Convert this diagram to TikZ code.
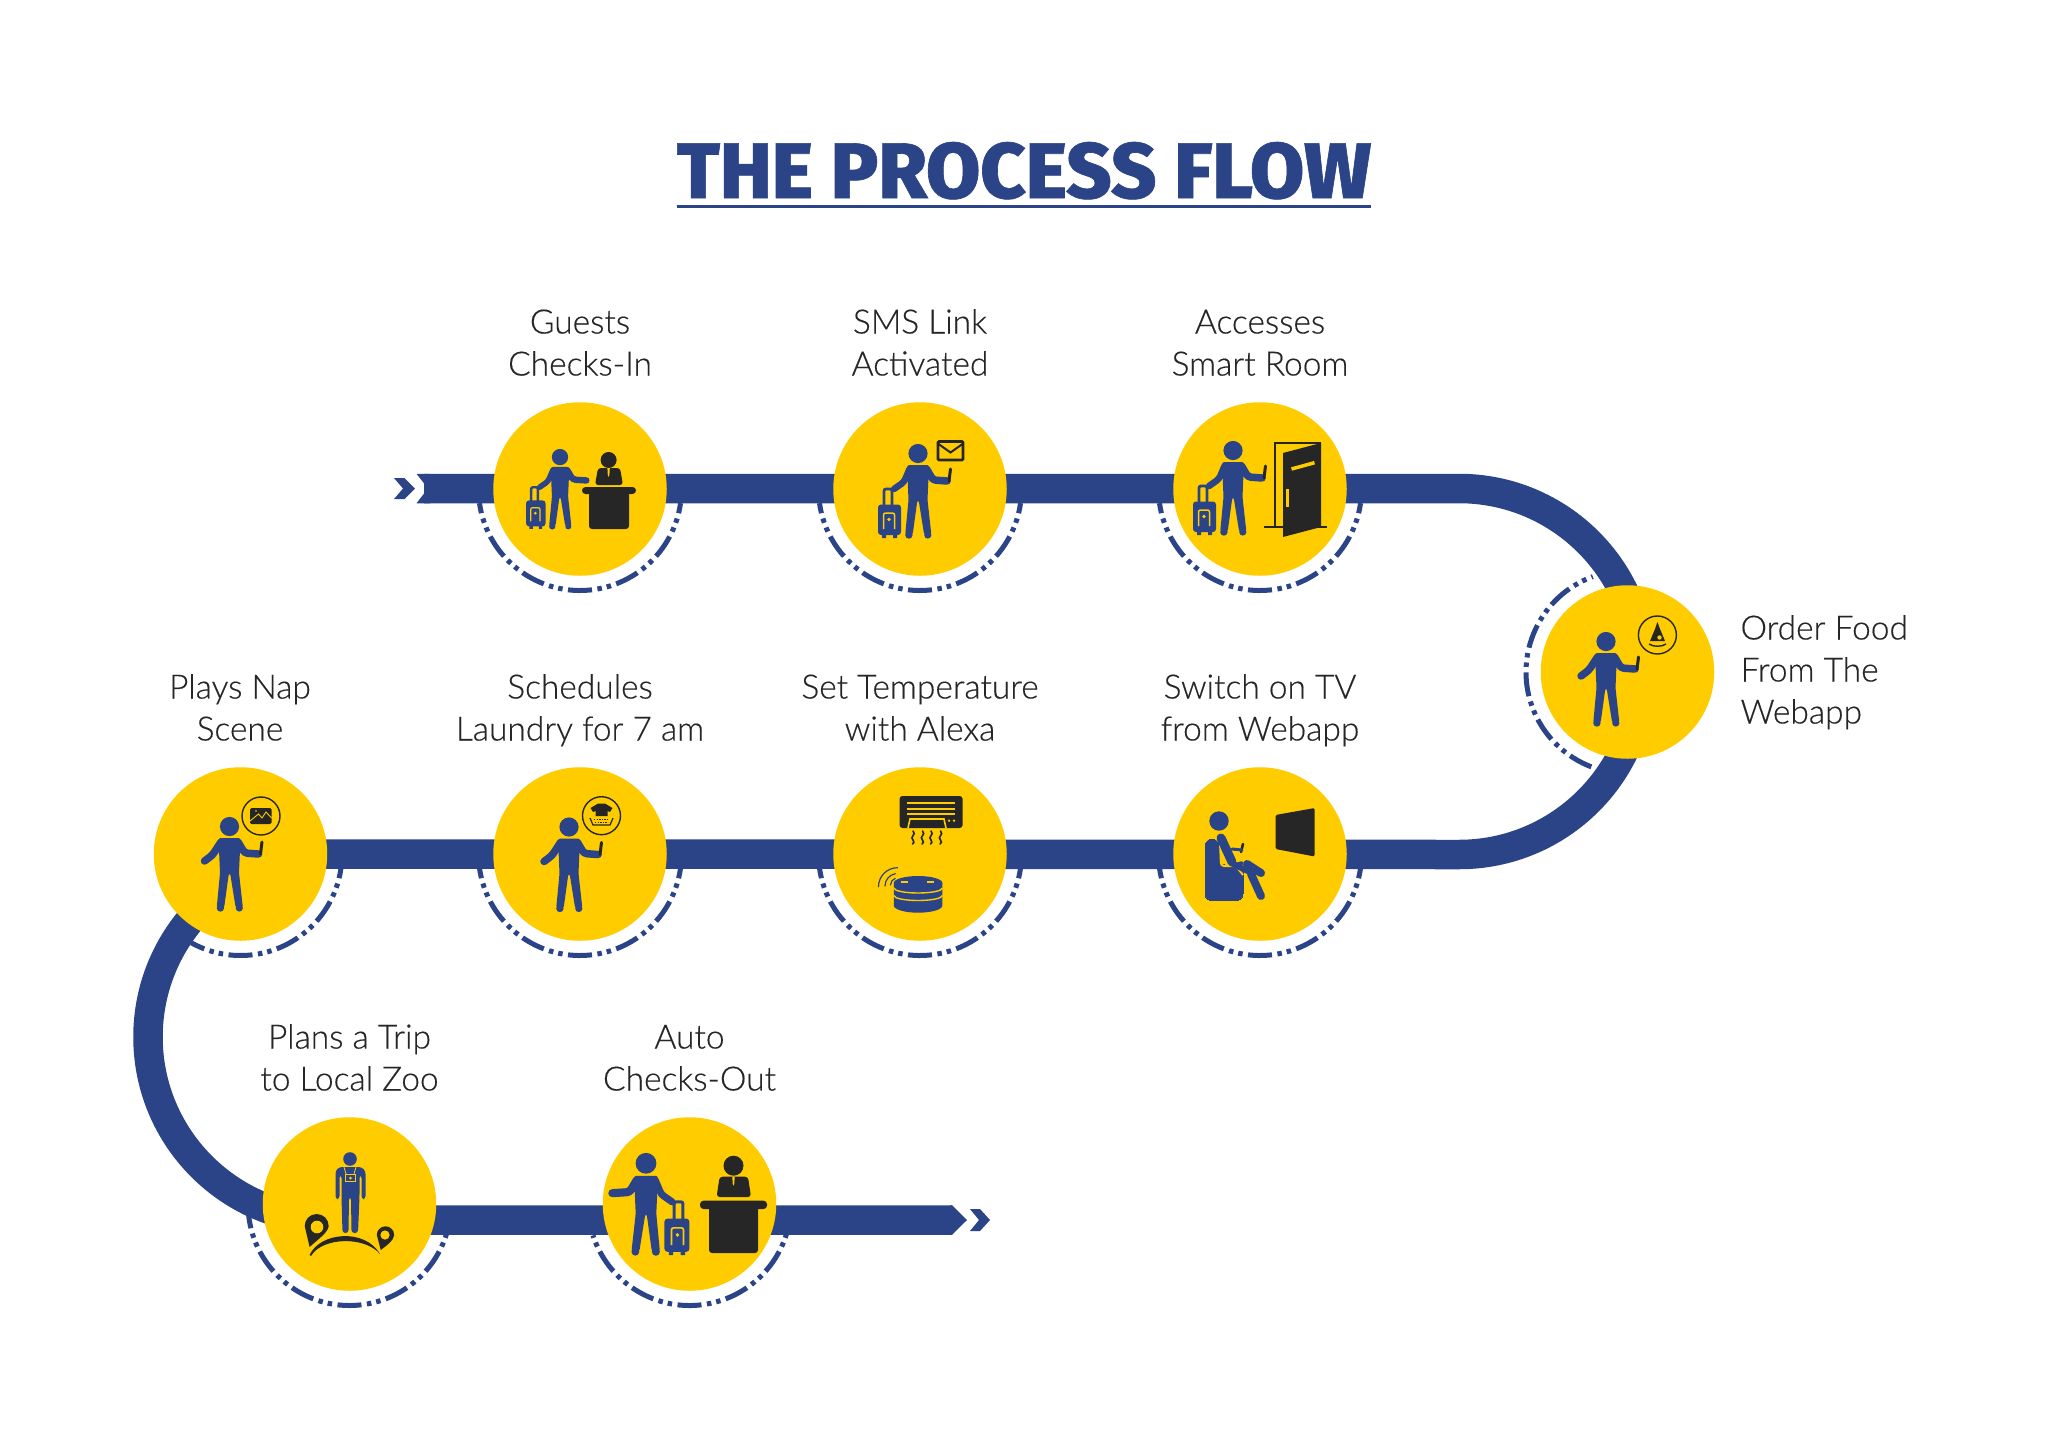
\documentclass[tikz,border=0pt]{standalone}
\usepackage{graphicx}
\usepackage{fontspec}
\usetikzlibrary{backgrounds,calc}
\setmainfont[FakeBold=0.35]{Lato Light}
\newfontfamily\headfont[FakeBold=0.8]{Fira Sans ExtraBold}
\definecolor{navy}{HTML}{2B4487}
\definecolor{sun}{HTML}{FFCC00}
\definecolor{ink}{HTML}{262626}
\tikzset{
  stop/.style={circle,fill=sun,minimum size=173.5pt,inner sep=0pt},
  caption/.style={text=ink,align=center,font=\fontsize{33.5}{42}\selectfont},
  trackline/.style={draw=navy,line width=29.5pt},
  ringline/.style={draw=navy,line width=5pt,dash pattern=on 24pt off 5.5pt on 4.5pt off 5pt on 4.5pt off 5.5pt},
  limb/.style={draw=navy,line width=7.5pt*\fs,line cap=round,line join=round,rounded corners=3pt},
  thin ink/.style={draw=ink,line width=1.4pt},
}
% Caption lines padded to a common height, so centres line up whatever the letters
\newcommand{\topline}{\rule{0pt}{26pt}}
\newcommand{\lowline}{\rule[-9pt]{0pt}{9pt}}
% A standing figure: x, y of the top of the head, y scale, x scale, extra limbs
\newcommand{\walker}[5]{%
  \def\fs{#3}%
  \begin{scope}[shift={(#1,#2)},xscale=#4,yscale=#3]
    \fill[navy] (0,9.5) circle (9.6pt);
    \fill[navy,rounded corners=2.5pt] (-11,21) -- (11,21) -- (9.5,56) -- (13.4,91) -- (6.2,91) -- (0.6,56) -- (-0.6,56) -- (-5.4,91) -- (-12.8,91) -- (-9.5,56) -- cycle;
    \fill[navy] (9.8,91) circle (3.6pt) (-9.1,91) circle (3.7pt);
    #5
  \end{scope}}
\newcommand{\armdown}{\draw[limb] (-8.5,25) -- (-17,38) -- (-25,44);}
\newcommand{\armphone}{\draw[limb] (8.5,25) -- (15,36) -- (29,37);
  \draw[draw=ink,line width=3pt*\fs,line cap=round] (31,37) -- (32.5,25);}
\newcommand{\armopen}{\draw[limb] (8.5,25) -- (15,36) -- (31,37);}
\newcommand{\armcase}{\draw[limb,line width=6.5pt*\fs] (-8.5,25) -- (-14,38) -- (-24,45);
  \draw[draw=navy,line width=2.8pt*\fs,rounded corners=2pt] (-34,61) -- (-34,45) -- (-26,45) -- (-26,61);
  \fill[navy,rounded corners=3pt] (-40,60.5) rectangle (-17,91);
  \fill[navy] (-36,90) rectangle (-32,94) (-25,90) rectangle (-21,94);
  \draw[draw=sun,line width=1.5pt*\fs,rounded corners=2pt] (-34.5,85) -- (-34.5,69) -- (-23.5,69) -- (-23.5,85);
  \fill[sun] (-29,75.5) circle (1.8pt);}
% Bubble around a small object
\newcommand{\bubble}[2]{\draw[thin ink] (#1,#2) circle (19pt);}
% Dashed arc below a stop, with a long dash centred under it
\newcommand{\ring}[3]{%
  \pgfmathsetmacro\ringphase{mod(490+12-(270-#2)*pi/180*101.5,49)}%
  \draw[ringline,dash phase=\ringphase pt] ([shift={(#2:101.5pt)}]#1.center) arc[start angle=#2,end angle=#3,radius=101.5pt];}
% Clerk behind a desk
\newcommand{\clerk}[9]{%
  \fill[ink] (#1,#2) circle (#3pt);
  \fill[ink,rounded corners=3pt] (#4,#7) -- (#4+3,#6) -- (#5-3,#6) -- (#5,#7) -- cycle;
  \fill[sun] (#1-1.2,#6) -- (#1+1.2,#6) -- (#1+0.8,#6+7) -- (#1,#6+9) -- (#1-0.8,#6+7) -- cycle;
  \fill[ink,rounded corners=3.5pt] (#8) rectangle (#9);}
\begin{document}
\begin{tikzpicture}[x=1pt,y=-1pt]
\useasboundingbox (0,0) rectangle (2048,1448);

% heading
\node[text=navy,inner sep=0pt,anchor=base] (heading) at (1024,198) {\resizebox{694pt}{56pt}{\headfont THE PROCESS FLOW}};
\draw[draw=navy,line width=3.5pt] (heading.base west) ++(0,8.7) -- ++(694,0);

% stops
\node[stop] (guests) at (580,489) {};
\node[stop] (sms) at (920,489) {};
\node[stop] (room) at (1260,489) {};
\node[stop] (food) at (1627.5,672) {};
\node[stop] (tv) at (1260,854) {};
\node[stop] (alexa) at (920,854) {};
\node[stop] (laundry) at (580,854) {};
\node[stop] (nap) at (240.5,854) {};
\node[stop] (zoo) at (349.5,1204) {};
\node[stop] (checkout) at (689.5,1204) {};

% captions
\node[caption] (capA) at (580,346) {\topline Guests\\Checks-In\lowline};
\node[caption] (capB) at (920,346) {\topline SMS Link\\Activated\lowline};
\node[caption] (capC) at (1260,346) {\topline Accesses\\Smart Room\lowline};
\node[caption,align=left,anchor=west] (capD) at (1737,673) {\topline Order Food\\From The\\Webapp\lowline};
\node[caption] (capE) at (1260,711) {\topline Switch on TV\\from Webapp\lowline};
\node[caption] (capF) at (920,711) {\topline Set Temperature\\with Alexa\lowline};
\node[caption] (capG) at (580,711) {\topline Schedules\\Laundry for 7 am\lowline};
\node[caption] (capH) at (240,711) {\topline Plays Nap\\Scene\lowline};
\node[caption] (capI) at (349.5,1061) {\topline Plans a Trip\\to Local Zoo\lowline};
\node[caption] (capJ) at (689.5,1061) {\topline Auto\\Checks-Out\lowline};

% track and dashed rings sit behind the stops
\begin{pgfonlayer}{background}
  \fill[white] (0,0) rectangle (2048,1448);
  \ring{guests}{188}{352}
  \ring{sms}{188}{352}
  \ring{room}{188}{352}
  \ring{food}{110}{250}
  \ring{tv}{188}{352}
  \ring{alexa}{188}{352}
  \ring{laundry}{188}{352}
  \ring{nap}{241}{352}
  \ring{zoo}{186}{343}
  \ring{checkout}{198}{343}
  \coordinate (tail) at (424,488.5);
  \coordinate (bendA) at (1459,488.5);
  \coordinate (bendC) at (331,854);
  \coordinate (tip) at (952,1220);
  \draw[trackline] (tail) -- (bendA) arc[start angle=90,end angle=-90,radius=183pt] -- (bendC) arc[start angle=90,end angle=270,radius=183pt] -- (tip);
  \fill[navy] (416.5,473.75) -- (428,488.5) -- (416.5,503.25) -- (430,503.25) -- (430,473.75) -- cycle;
  \fill[navy] (950,1205.25) -- (952,1205.25) -- (967,1220) -- (952,1234.75) -- (950,1234.75) -- cycle;
  \fill[navy] (394,478) -- (404.5,478) -- (415,488.5) -- (404.5,499) -- (394,499) -- (403,488.5) -- cycle;
  \fill[navy] (970,1209) -- (980,1209) -- (990,1220) -- (980,1231) -- (970,1231) -- (979,1220) -- cycle;
\end{pgfonlayer}

% check-in
\walker{560}{449}{0.85}{0.85}{\armcase\armopen}
\clerk{608.6}{460}{8}{595}{623}{468}{485}{582,487}{636,494}
\fill[ink,rounded corners=3pt] (589,492) rectangle (629,529);

% message
\walker{918}{444}{1}{1}{\armcase\armphone}
\draw[draw=ink,fill=sun,line width=2.6pt,rounded corners=1pt] (938,441.5) rectangle (963,460);
\draw[draw=ink,line width=2pt] (938.5,444) -- (950.5,452.5) -- (962.5,444);

% smart room
\walker{1233}{441}{1}{1}{\armcase\armphone}
\draw[draw=ink,line width=2pt] (1275,527) -- (1275,443) -- (1321,443);
\draw[draw=ink,line width=2pt] (1264,527) -- (1327,527);
\fill[ink] (1283,453) -- (1321,443) -- (1321,527) -- (1283,537) -- cycle;
\draw[draw=sun,line width=3.5pt] (1291.5,469) -- (1314.5,462.7);
\draw[draw=sun,line width=2.6pt] (1287.7,489) -- (1287.7,506.7);

% food order
\walker{1606}{632}{1}{1}{\armdown\armphone}
\bubble{1657.4}{635}
\fill[ink] (1657.4,622) -- (1660,629) -- (1665,641) -- (1650,641) -- (1655,629) -- cycle;
\fill[sun] (1659.5,637.5) circle (2.2pt);
\draw[draw=ink,line width=1.4pt] (1649,644) .. controls (1653,647) and (1662,647) .. (1666,644);

% watching television
\fill[navy] (1219,821) circle (9.7pt);
\draw[draw=navy,fill=navy,line width=0pt,rounded corners=7pt] (1205,900.7) -- (1205,839) -- (1219,839) -- (1219,865) -- (1243,865) -- (1243,900.7) -- cycle;
\draw[draw=sun,line width=2pt,rounded corners=3pt] (1220,842) -- (1221,866) -- (1236,866) -- (1243,875);
\draw[draw=navy,line width=9pt,line cap=round,line join=round] (1221,838) -- (1232,862);
\draw[draw=navy,line width=3.6pt,line cap=round] (1228,849) -- (1234,865) -- (1242,863);
\draw[draw=navy,line width=8pt,line cap=round,line join=round] (1247,864) -- (1261,873) (1251,874) -- (1261,896);
\draw[draw=navy,line width=6pt,line cap=round] (1233,864) -- (1250,872);
\draw[draw=ink,line width=2.6pt,line cap=round] (1243,844) -- (1241,852);
\draw[draw=navy,line width=3pt,line cap=round] (1232,849) -- (1242,850);
\fill[ink,rounded corners=1.5pt] (1275.5,815) -- (1314.7,808) -- (1314.7,856.5) -- (1275.5,849) -- cycle;

% air conditioner and speaker
\fill[ink,rounded corners=3pt] (899.5,796) rectangle (962.6,828);
\draw[draw=sun,line width=2pt] (907,803) -- (955,803) (907,808.7) -- (955,808.7) (907,813.5) -- (955,813.5);
\draw[draw=sun,line width=1.6pt] (908,828) -- (910,819) -- (944,819) -- (946,828);
\fill[sun] (949,820.7) circle (1.3pt) (954,820.7) circle (1.3pt);
\foreach \hx in {913,922.5,931,940.5}
  \draw[draw=ink,line width=1.6pt,line cap=round] (\hx,831) .. controls (\hx+4,834.5) and (\hx-4,837) .. (\hx,840) .. controls (\hx+2,841.5) and (\hx+0.5,843) .. (\hx-0.5,844);
\fill[navy] (893.8,883) -- (942.4,883) -- (942.4,905.5) arc[start angle=0,end angle=-180,x radius=24.3pt,y radius=7.2pt] -- cycle;
\fill[navy] (918.1,883) ellipse (24.3pt and 7pt);
\draw[draw=sun,line width=1.4pt] (893.8,888) arc[start angle=180,end angle=360,x radius=24.3pt,y radius=5pt];
\draw[draw=sun,line width=1.4pt] (893.8,895.5) arc[start angle=180,end angle=360,x radius=24.3pt,y radius=5pt];
\draw[draw=sun,line width=1.2pt] (901,882) -- (908,882) (927,882) -- (934,882);
\draw[draw=navy,line width=1.2pt,line cap=round] (878.5,886.7) arc[start angle=180,end angle=90,radius=19pt];
\draw[draw=navy,line width=1.2pt,line cap=round] (885,886) arc[start angle=180,end angle=100,radius=12.5pt];
\draw[draw=navy,line width=1.2pt,line cap=round] (890.5,885) arc[start angle=180,end angle=110,radius=7pt];

% laundry
\walker{569}{817.5}{1}{1}{\armdown\armphone}
\bubble{601.5}{815.7}
\fill[ink] (598,803.5) -- (605,803.5) -- (612.5,808) -- (610,812) -- (607.5,811) -- (607.5,816) -- (595.5,816) -- (595.5,811) -- (593,812) -- (590.5,808) -- cycle;
\draw[draw=ink,line width=1.2pt] (590,818) -- (593,825) -- (610,825) -- (613,818);
\draw[draw=ink,line width=1pt,dash pattern=on 1.4pt off 1.2pt] (594,819.5) -- (609,819.5) (595,822.5) -- (608,822.5);

% nap scene
\walker{229.5}{817}{1}{1}{\armdown\armphone}
\bubble{261}{816}
\fill[ink,rounded corners=1.5pt] (250,808) rectangle (271.6,824);
\draw[draw=sun,line width=0.9pt] (250,821) -- (258.5,814) -- (262,818) -- (266,812) -- (271.6,818);
\fill[sun] (256,811) circle (0.9pt);

% zoo trip
\fill[navy] (350,1159) circle (6.8pt);
\fill[navy,rounded corners=3pt] (335.5,1199) -- (335.5,1171) -- (339,1167) -- (361.5,1167) -- (365.5,1171) -- (365.5,1199) -- (361.5,1199) -- (361.5,1175) -- (359.5,1175) -- (359.5,1197) -- (358,1233) -- (351.5,1233) -- (351,1197) -- (349,1197) -- (348.5,1233) -- (342.5,1233) -- (341.5,1197) -- (341.5,1175) -- (339.5,1175) -- (339.5,1199) -- cycle;
\draw[draw=sun,line width=0.8pt] (344,1167) -- (346,1174) (356,1167) -- (354,1174);
\draw[draw=sun,line width=1pt] (345.5,1174.5) rectangle (355.5,1181.5);
\fill[sun] (350.5,1178) circle (1.5pt);
\fill[ink] (309.6,1247) -- (304.7,1226) arc[start angle=180,end angle=0,radius=12pt] .. controls (328.7,1232) and (316,1241) .. (309.6,1247) -- cycle;
\fill[sun] (317,1227) circle (6.3pt);
\fill[ink] (380.8,1250) -- (376.8,1235) arc[start angle=180,end angle=0,radius=8.7pt] .. controls (394.2,1240) and (386,1246) .. (380.8,1250) -- cycle;
\fill[sun] (385,1235) circle (4.6pt);
\fill[ink] (309.6,1255) .. controls (320,1232) and (365,1228) .. (380,1254) .. controls (365,1236) and (322,1237) .. (311,1256) -- cycle;

% check-out
\walker{646}{1153}{1.085}{-1.085}{\armcase\armopen}
\clerk{733.5}{1165.7}{10}{716.6}{751}{1176.7}{1197}{700,1200.7}{767,1209}
\fill[ink,rounded corners=3pt] (709,1206) rectangle (758,1253);
\end{tikzpicture}
\end{document}
